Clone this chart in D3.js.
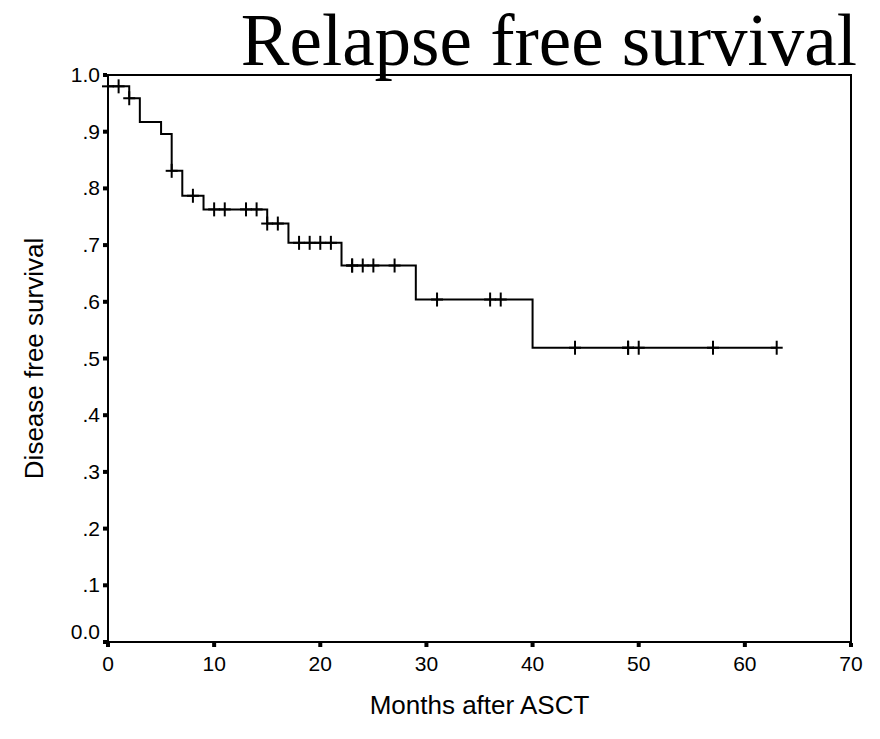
<!DOCTYPE html>
<html>
<head>
<meta charset="utf-8">
<script src="https://cdn.jsdelivr.net/npm/d3@7"></script>
<style>
	body { margin: 0; background: #fff; }
	svg { display: block; }
</style>
</head>
<body>
<div id="chart"></div>
<script>
/**
 * Data.
 */
var eventTimes = [0, 2, 3, 5, 6, 7, 9, 15, 17, 22, 29, 40]; // Months where the curve drops.
var survival = [0.98, 0.959, 0.917, 0.896, 0.831, 0.787, 0.763, 0.738, 0.704, 0.664, 0.604, 0.519]; // Level after each drop.
var censorTimes = [0, 1, 2, 6, 8, 10, 11, 13, 14, 15, 16, 18, 19, 20, 21, 23, 23, 24, 25, 27, 31, 36, 37, 44, 49, 49, 50, 57, 63];
var lastTime = 63;
var xTicks = [0, 10, 20, 30, 40, 50, 60, 70];
var yTicks = [0, 0.1, 0.2, 0.3, 0.4, 0.5, 0.6, 0.7, 0.8, 0.9, 1.0];
var yTickLabels = ["0.0", ".1", ".2", ".3", ".4", ".5", ".6", ".7", ".8", ".9", "1.0"];

{
	var width = 880,
		height = 739,
		margin = { top: 75, right: 29, bottom: 97, left: 108 };

	var svg = d3.select("#chart").append("svg")
		.attr("width", width)
		.attr("height", height);

	var x = d3.scaleLinear().domain([0, 70]).range([margin.left, width - margin.right]);
	var y = d3.scaleLinear().domain([0, 1]).range([height - margin.bottom, margin.top]);

	var axisFont = "Liberation Sans, Arial, sans-serif";

	// Frame
	svg.append("rect")
		.attr("x", x(0))
		.attr("y", y(1))
		.attr("width", x(70) - x(0))
		.attr("height", y(0) - y(1))
		.attr("fill", "none")
		.attr("stroke", "#000")
		.attr("stroke-width", 2);

	// Y ticks: small squares left of the axis
	svg.selectAll(".ytick")
		.data(yTicks)
		.enter().append("rect")
		.attr("class", "ytick")
		.attr("x", x(0) - 5)
		.attr("y", d => y(d) - 2)
		.attr("width", 4)
		.attr("height", 4)
		.attr("fill", "#000");

	svg.selectAll(".ylabel")
		.data(yTicks)
		.enter().append("text")
		.attr("class", "ylabel")
		.attr("x", x(0) - 8)
		.attr("y", (d, i) => y(d) + 7 - (i == 0 ? 10 : 0))
		.attr("text-anchor", "end")
		.style("font-family", axisFont)
		.style("font-size", "21px")
		.text((d, i) => yTickLabels[i]);

	// X ticks: small squares under the axis
	svg.selectAll(".xtick")
		.data(xTicks)
		.enter().append("rect")
		.attr("class", "xtick")
		.attr("x", d => x(d) - 2)
		.attr("y", y(0) + 1)
		.attr("width", 4)
		.attr("height", 4)
		.attr("fill", "#000");

	svg.selectAll(".xlabel")
		.data(xTicks)
		.enter().append("text")
		.attr("class", "xlabel")
		.attr("x", d => x(d))
		.attr("y", y(0) + 29)
		.attr("text-anchor", "middle")
		.style("font-family", axisFont)
		.style("font-size", "21px")
		.text(d => d);

	// Survival step curve
	var pts = [[0, 1]];
	eventTimes.forEach(function (t, i) {
		pts.push([t, survival[i]]);
	});
	pts.push([lastTime, survival[survival.length - 1]]);

	var line = d3.line()
		.x(d => x(d[0]))
		.y(d => y(d[1]))
		.curve(d3.curveStepAfter);

	svg.append("path")
		.attr("d", line(pts))
		.attr("fill", "none")
		.attr("stroke", "#000")
		.attr("stroke-width", 2);

	// Level of the curve at time t
	function levelAt(t) {
		var s = 1;
		eventTimes.forEach(function (e, i) {
			if (e <= t) s = survival[i];
		});
		return s;
	}

	// Censor marks
	var cens = svg.selectAll(".censor")
		.data(censorTimes)
		.enter().append("g")
		.attr("class", "censor")
		.attr("transform", d => "translate(" + x(d) + "," + y(levelAt(d)) + ")");

	cens.append("line")
		.attr("x1", -6).attr("x2", 6)
		.attr("y1", 0).attr("y2", 0)
		.attr("stroke", "#000").attr("stroke-width", 2);
	cens.append("line")
		.attr("x1", 0).attr("x2", 0)
		.attr("y1", -7).attr("y2", 7)
		.attr("stroke", "#000").attr("stroke-width", 2);

	// Titles
	svg.append("text")
		.attr("x", 857)
		.attr("y", 65)
		.attr("text-anchor", "end")
		.style("font-family", "Liberation Serif, Times New Roman, serif")
		.style("font-size", "73px")
		.text("Relapse free survival");

	svg.append("text")
		.attr("transform", "translate(43," + ((y(0) + y(1)) / 2) + ") rotate(-90)")
		.attr("text-anchor", "middle")
		.style("font-family", axisFont)
		.style("font-size", "26px")
		.text("Disease free survival");

	svg.append("text")
		.attr("x", (x(0) + x(70)) / 2)
		.attr("y", 714)
		.attr("text-anchor", "middle")
		.style("font-family", axisFont)
		.style("font-size", "26px")
		.text("Months after ASCT");
}
</script>
</body>
</html>
